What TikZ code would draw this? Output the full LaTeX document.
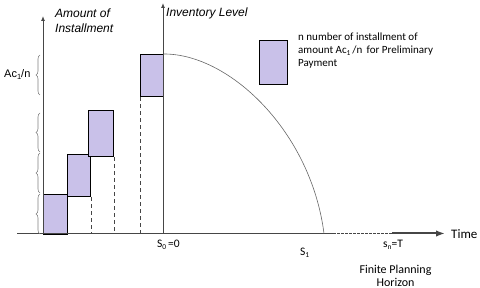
\documentclass[tikz,border=0pt]{standalone}
\usepackage{fontspec}
\setmainfont{Carlito}
\newfontfamily\arialf{Liberation Sans}
\usetikzlibrary{arrows.meta,decorations.pathreplacing}
\definecolor{boxfill}{RGB}{201,193,233}
\definecolor{axisgray}{RGB}{70,70,70}
\newcommand\lowsub[1]{\raisebox{-0.3ex}{\fontsize{7.5}{8}\selectfont #1}}
\begin{document}
\begin{tikzpicture}[x=1pt,y=-1pt,
  ibox/.style={draw=black,line width=1.2pt,fill=boxfill,inner sep=0pt,anchor=north west},
  axisline/.style={draw=axisgray,line width=0.9pt},
  vguide/.style={draw=axisgray,line width=0.7pt,dash pattern=on 4pt off 3pt},
  bracestyle/.style={draw=gray,line width=0.6pt,decorate,decoration={brace,amplitude=4pt}},
  lbl/.style={inner sep=0pt,anchor=base west}]
\useasboundingbox (0,0) rectangle (480,288);
% coordinates
\coordinate (o1) at (43,233.5);
\coordinate (t1) at (43,16);
\coordinate (o2) at (163,233.5);
\coordinate (t2) at (163,3);
\coordinate (hstart) at (17,233.5);
\coordinate (s1) at (333,233.5);
\coordinate (sn) at (392,233.5);
\coordinate (hend) at (445,233.5);
% boxes
\node[ibox,minimum width=24pt,minimum height=40pt] (b1) at (43,194) {};
\node[ibox,minimum width=23pt,minimum height=42pt] (b2) at (67,154) {};
\node[ibox,minimum width=25pt,minimum height=46pt] (b3) at (88,110) {};
\node[ibox,minimum width=23pt,minimum height=42pt] (b4) at (140,54) {};
\node[ibox,minimum width=28pt,minimum height=44pt] (lg) at (259,40) {};
% guides
\draw[vguide] (b2.south east) -- (b2.south east |- o1);
\draw[vguide] (b3.south east) -- (b3.south east |- o1);
\draw[vguide] (b4.south west) -- (b4.south west |- o1);
% axes
\draw[axisline,-{Latex[length=5pt,width=4pt]}] (o1) -- (t1);
\draw[axisline,-{Latex[length=5pt,width=4pt]}] (o2) -- (t2);
\draw[axisline,line width=1.1pt] (hstart) -- (s1);
\draw[axisline,line width=0.9pt,dash pattern=on 2.5pt off 1.5pt] (s1) -- (sn);
\draw[draw=axisgray,line width=2pt,-{Latex[length=9pt,width=6.5pt]}] (sn) -- (hend);
% inventory curve
\coordinate (cstart) at (b4.north east);
\coordinate (cend) at (324,233.5);
\draw[draw=gray!80!black,line width=0.6pt] (cstart) .. controls (230,54) and (311,132) .. (cend);
% braces
\draw[bracestyle] (40,234) -- (40,194);
\draw[bracestyle] (40,193) -- (40,153);
\draw[bracestyle] (40,152) -- (40,113);
\draw[bracestyle] (40,95) -- (40,55);
% labels
\node[lbl,font=\arialf\fontsize{12}{15}\selectfont\itshape,align=left,anchor=north west] (ya) at (55,8.5) {Amount of\\Installment};
\node[lbl,font=\arialf\fontsize{12}{15}\selectfont\itshape] (yb) at (166,17) {Inventory Level};
\node[lbl,font=\arialf\fontsize{11}{13}\selectfont] (ac) at (4,78) {Ac\lowsub{1}/n};
\node[lbl,font=\fontsize{11}{13}\selectfont,align=left,anchor=north west] (lt) at (298,33) {n number of installment of\\amount Ac\lowsub{1}\,/n\, for Preliminary\\Payment};
\node[lbl,font=\fontsize{11.5}{13}\selectfont] (l0) at (157,248) {S\lowsub{0}\,=0};
\node[lbl,font=\fontsize{11.5}{13}\selectfont] (l1) at (300,256) {S\lowsub{1}};
\node[lbl,font=\fontsize{11.5}{13}\selectfont] (ln) at (383,248) {s\lowsub{n}=T};
\node[lbl,font=\fontsize{13}{14}\selectfont] (tm) at (451,238.5) {Time};
\node[font=\fontsize{12}{12.5}\selectfont,align=center,inner sep=0pt] (fh) at (395.5,276) {Finite Planning\\Horizon};
\end{tikzpicture}
\end{document}
